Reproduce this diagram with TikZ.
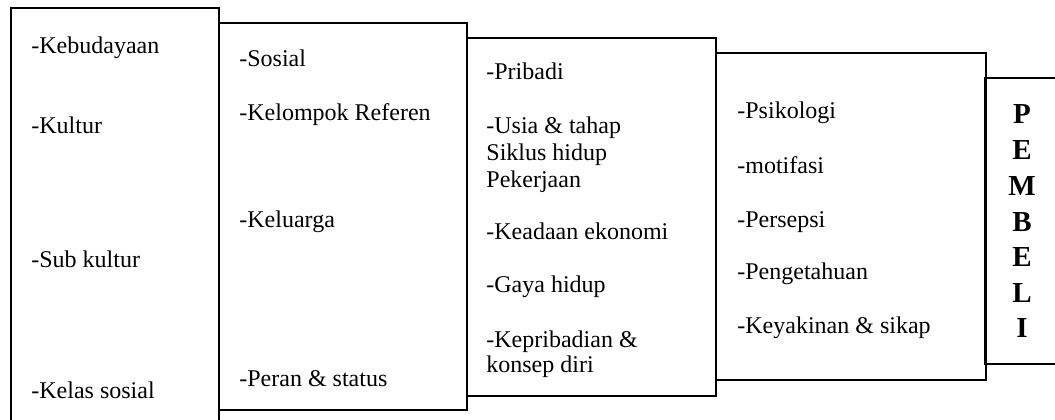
\documentclass[tikz,border=0pt]{standalone}
\usepackage{fontspec}
\setmainfont{Liberation Serif}
\begin{document}
\begin{tikzpicture}[x=0.5pt,y=-0.5pt,
  box/.style={draw=black,line width=0.9pt,inner sep=0pt,anchor=north west},
  txt/.style={anchor=base west,inner sep=0pt,font=\fontsize{12pt}{13.5pt}\selectfont},
  letter/.style={anchor=base,inner sep=0pt,font=\fontsize{14.5pt}{17pt}\bfseries\selectfont}]
\clip (0,0) rectangle (1055,419);
% boxes
\node[box,minimum width=104pt,minimum height=211.5pt] (b1) at (10,7) {};
\node[box,minimum width=124pt,minimum height=193.5pt] (b2) at (218,22) {};
\node[box,minimum width=124.5pt,minimum height=179pt] (b3) at (466,37) {};
\node[box,minimum width=135pt,minimum height=163.5pt] (b4) at (715,52) {};
\node[box,minimum width=45pt,minimum height=143pt] (b5) at (984,77) {};
% box 1
\node[txt] (t11) at (31,53) {-Kebudayaan};
\node[txt] (t12) at (31,133) {-Kultur};
\node[txt] (t13) at (31,267) {-Sub kultur};
\node[txt] (t14) at (31,398) {-Kelas sosial};
% box 2
\node[txt] (t21) at (239,66) {-Sosial};
\node[txt] (t22) at (239,120) {-Kelompok Referen};
\node[txt] (t23) at (239,227) {-Keluarga};
\node[txt] (t24) at (239,386) {-Peran \& status};
% box 3
\node[txt] (t31) at (486,79) {-Pribadi};
\node[txt] (t32) at (486,133) {-Usia \& tahap};
\node[txt] (t33) at (486,160) {Siklus hidup};
\node[txt] (t34) at (486,187) {Pekerjaan};
\node[txt] (t35) at (486,239) {-Keadaan ekonomi};
\node[txt] (t36) at (486,292) {-Gaya hidup};
\node[txt] (t37) at (486,347) {-Kepribadian \&};
\node[txt] (t38) at (486,372) {konsep diri};
% box 4
\node[txt] (t41) at (737,118) {-Psikologi};
\node[txt] (t42) at (737,173) {-motifasi};
\node[txt] (t43) at (737,227) {-Persepsi};
\node[txt] (t44) at (737,279) {-Pengetahuan};
\node[txt] (t45) at (737,333) {-Keyakinan \& sikap};
% box 5
\node[letter] (l1) at (1022,123) {P};
\node[letter] (l2) at (1022,159) {E};
\node[letter] (l3) at (1022,195) {M};
\node[letter] (l4) at (1022,231) {B};
\node[letter] (l5) at (1022,266) {E};
\node[letter] (l6) at (1022,302) {L};
\node[letter] (l7) at (1022,337) {I};
\end{tikzpicture}
\end{document}
